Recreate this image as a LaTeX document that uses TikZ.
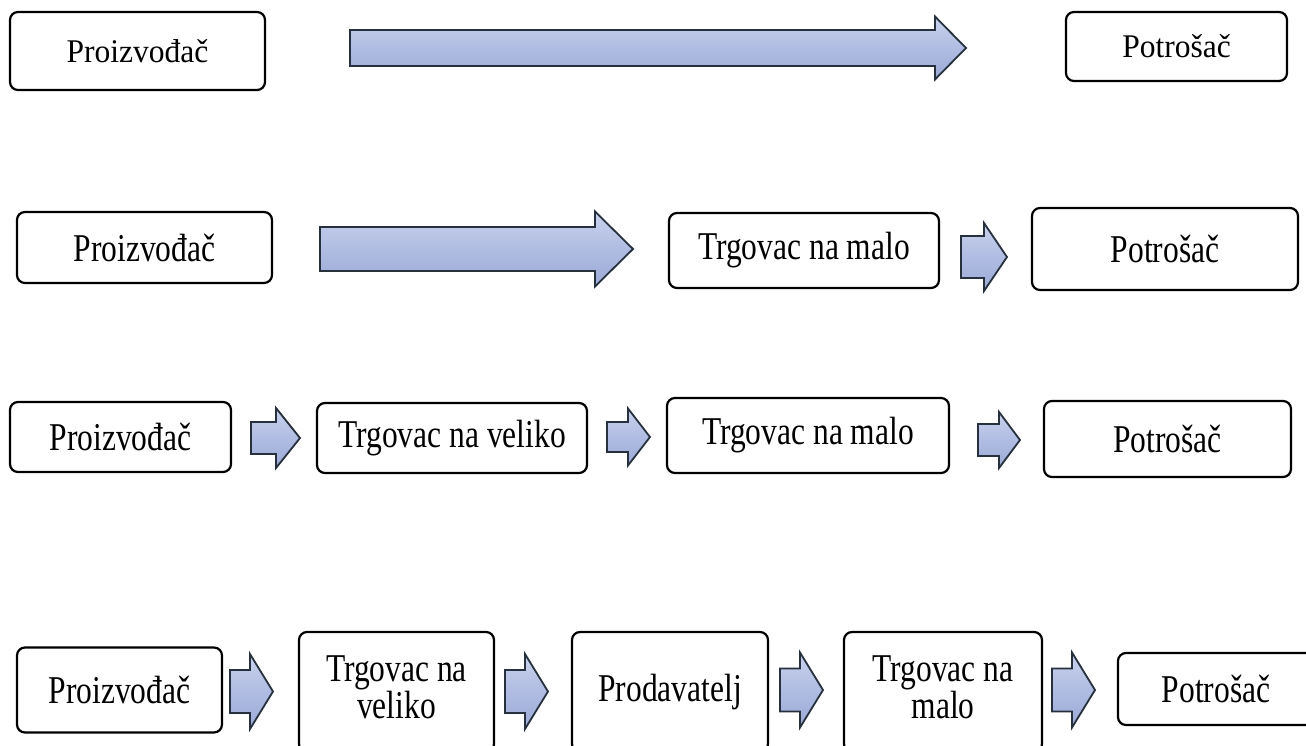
\documentclass[tikz,border=0pt]{standalone}
\usepackage{fontspec}
\usepackage{graphicx}
\setmainfont{Liberation Serif}
\definecolor{arrTop}{HTML}{C9D2ED}
\definecolor{arrMid}{HTML}{B0BCE2}
\definecolor{arrBot}{HTML}{9BAAD6}
\definecolor{arrLine}{HTML}{26313D}
\tikzset{
  box/.style={draw=black, line width=2.2pt, rounded corners=8pt, fill=white, inner sep=0pt,
    font=\fontsize{31.5pt}{25.6pt}\selectfont, align=center},
  barrow/.style={draw=arrLine, line width=1.8pt, top color=arrTop, bottom color=arrBot,
    middle color=arrMid, line join=miter}
}
\newcommand{\tx}[1]{\scalebox{1}[1.25]{#1}}
\newcommand{\txa}[1]{\scalebox{1}[1.05]{#1}}
\newcommand{\twol}[2]{\scalebox{1}[1.25]{\begin{tabular}{@{}c@{}}#1\\#2\end{tabular}}}
% #1 left x, #2 tip x, #3 centre y, #4 shaft half height, #5 head half height, #6 head base x
\newcommand{\blockarr}[6]{%
  \draw[barrow] (#1,#3-#4) -- (#6,#3-#4) -- (#6,#3-#5) -- (#2,#3) -- (#6,#3+#5)
    -- (#6,#3+#4) -- (#1,#3+#4) -- cycle;}
\begin{document}
\begin{tikzpicture}[x=1pt,y=-1pt]
\useasboundingbox (0,0) rectangle (1306,746);
\clip (0,0) rectangle (1306,746);
% row 1
\node[box, minimum width=255pt, minimum height=78pt] (A1) at (137.5,51) {\txa{Proizvođač}};
\node[box, minimum width=221pt, minimum height=69pt] (B1) at (1176.5,46.5) {\txa{Potrošač}};
\blockarr{350}{966}{48}{18}{31.5}{935}
% row 2
\node[box, minimum width=255pt, minimum height=71pt] (A2) at (144.5,247.5) {\tx{Proizvođač}};
\node[box, minimum width=270pt, minimum height=75pt] (C2) at (804,250.5) {\tx{Trgovac na malo}};
\node[box, minimum width=266pt, minimum height=82pt] (D2) at (1165,249) {\tx{Potrošač}};
\blockarr{320}{633}{249}{22}{37.5}{595}
\blockarr{961}{1007}{257}{21}{34}{984}
% row 3
\node[box, minimum width=221pt, minimum height=70pt] (A3) at (120.5,437) {\tx{Proizvođač}};
\node[box, minimum width=270pt, minimum height=70pt] (B3) at (452,438) {\tx{Trgovac na veliko}};
\node[box, minimum width=282pt, minimum height=75pt] (C3) at (808,435.5) {\tx{Trgovac na malo}};
\node[box, minimum width=247pt, minimum height=76pt] (D3) at (1167.5,439) {\tx{Potrošač}};
\blockarr{251}{300}{438}{16}{30}{276}
\blockarr{607}{650}{437}{15}{28.5}{628}
\blockarr{978}{1020}{440}{16}{28}{999}
% row 4
\node[box, minimum width=205pt, minimum height=85pt] (A4) at (119.5,690) {\tx{Proizvođač}};
\node[box, minimum width=195pt, minimum height=120pt] (B4) at (396.5,692) {\twol{Trgovac na}{veliko}};
\node[box, minimum width=196pt, minimum height=120pt] (C4) at (670,692) {\tx{Prodavatelj}};
\node[box, minimum width=198pt, minimum height=120pt] (D4) at (943,692) {\twol{Trgovac na}{malo}};
\node[box, minimum width=196pt, minimum height=72pt] (E4) at (1216,689) {\tx{Potrošač}};
\blockarr{230}{273}{691.5}{21.5}{37.5}{250}
\blockarr{505}{548}{691.5}{21.5}{37.5}{525}
\blockarr{780}{823}{690}{21.5}{37.5}{800}
\blockarr{1052}{1095}{690}{21.5}{37.5}{1072}
\end{tikzpicture}
\end{document}
